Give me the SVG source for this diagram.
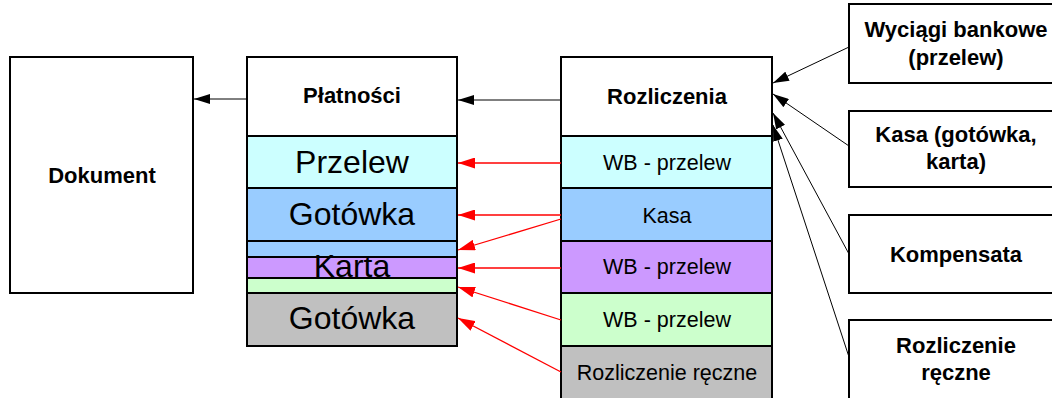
<svg xmlns="http://www.w3.org/2000/svg" width="1052" height="398" viewBox="0 0 1052 398">
<style>
.box{stroke:#000;stroke-width:2}
.w{fill:#fff}.cy{fill:#ccffff}.bl{fill:#99ccff}.pu{fill:#cc99ff}.gr{fill:#ccffcc}.gy{fill:#c0c0c0}
text{font-family:"Liberation Sans",Arial,sans-serif;text-anchor:middle;fill:#000}
.b{font-weight:bold;font-size:22px}
.r{font-size:21.5px}
.big{font-size:32px}
.k{stroke:#000;stroke-width:1;fill:none;marker-end:url(#ak)}
.red{stroke:#f00;stroke-width:1.3;fill:none;marker-end:url(#ar)}
</style>
<defs>
<marker id="ak" markerUnits="userSpaceOnUse" markerWidth="16" markerHeight="10" refX="16" refY="5" orient="auto"><path d="M0,0 L16,5 L0,10 z" fill="#000"/></marker>
<marker id="ar" markerUnits="userSpaceOnUse" markerWidth="17" markerHeight="11" refX="17" refY="5.5" orient="auto"><path d="M0,0 L17,5.5 L0,11 z" fill="#f00"/></marker>
</defs>
<rect width="1052" height="398" fill="#fff"/>
<g id="dokument"><rect class="box w" x="10" y="57" width="183" height="236"/><text class="b" x="102" y="183">Dokument</text></g>
<g id="platnosci">
<rect class="box w" x="247" y="57" width="210" height="79"/><text class="b" x="352" y="103">Płatności</text>
<rect class="box cy" x="247" y="136" width="210" height="52"/><text class="big" x="352" y="173">Przelew</text>
<rect class="box bl" x="247" y="188" width="210" height="53"/><text class="big" x="352" y="225">Gotówka</text>
<rect class="box bl" x="247" y="241" width="210" height="16"/>
<rect class="box pu" x="247" y="257" width="210" height="21"/>
<rect class="box gr" x="247" y="278" width="210" height="15"/>
<text class="big" x="352" y="277">Karta</text>
<rect class="box gy" x="247" y="293" width="210" height="53"/><text class="big" x="352" y="329">Gotówka</text>
</g>
<g id="rozliczenia">
<rect class="box w" x="561" y="57" width="211" height="79"/><text class="b" x="667" y="104">Rozliczenia</text>
<rect class="box cy" x="561" y="136" width="211" height="52"/><text class="r" x="667" y="170">WB - przelew</text>
<rect class="box bl" x="561" y="188" width="211" height="53"/><text class="r" x="667" y="223">Kasa</text>
<rect class="box pu" x="561" y="241" width="211" height="52"/><text class="r" x="667" y="274">WB - przelew</text>
<rect class="box gr" x="561" y="293" width="211" height="53"/><text class="r" x="667" y="327">WB - przelew</text>
<rect class="box gy" x="561" y="346" width="211" height="54"/><text class="r" x="667" y="380">Rozliczenie ręczne</text>
</g>
<g id="wyciagi"><rect class="box w" x="849" y="4" width="210" height="79"/><text class="b" x="956" y="37">Wyciągi bankowe</text><text class="b" x="956" y="65">(przelew)</text></g>
<g id="kasa"><rect class="box w" x="849" y="111" width="210" height="76"/><text class="b" x="956" y="142">Kasa (gotówka,</text><text class="b" x="956" y="169">karta)</text></g>
<g id="kompensata"><rect class="box w" x="849" y="215" width="210" height="78"/><text class="b" x="956" y="262">Kompensata</text></g>
<g id="reczne"><rect class="box w" x="849" y="320" width="210" height="90"/><text class="b" x="956" y="353">Rozliczenie</text><text class="b" x="956" y="380">ręczne</text></g>
<g id="connectors">
<line class="k" x1="561" y1="100" x2="458" y2="100"/>
<line class="k" x1="247" y1="99" x2="194" y2="99"/>
<line class="red" x1="561" y1="163" x2="458" y2="163"/>
<line class="red" x1="561" y1="215" x2="458" y2="215"/>
<line class="red" x1="561" y1="219" x2="458" y2="250"/>
<line class="red" x1="561" y1="268" x2="458" y2="268"/>
<line class="red" x1="561" y1="320" x2="458" y2="287"/>
<line class="red" x1="561" y1="372" x2="458" y2="318"/>
<line class="k" x1="849" y1="47" x2="773" y2="83"/>
<line class="k" x1="849" y1="146" x2="773" y2="94"/>
<line class="k" x1="849" y1="254" x2="773" y2="113"/>
<line class="k" x1="849" y1="357" x2="773" y2="125"/>
</g>
</svg>
